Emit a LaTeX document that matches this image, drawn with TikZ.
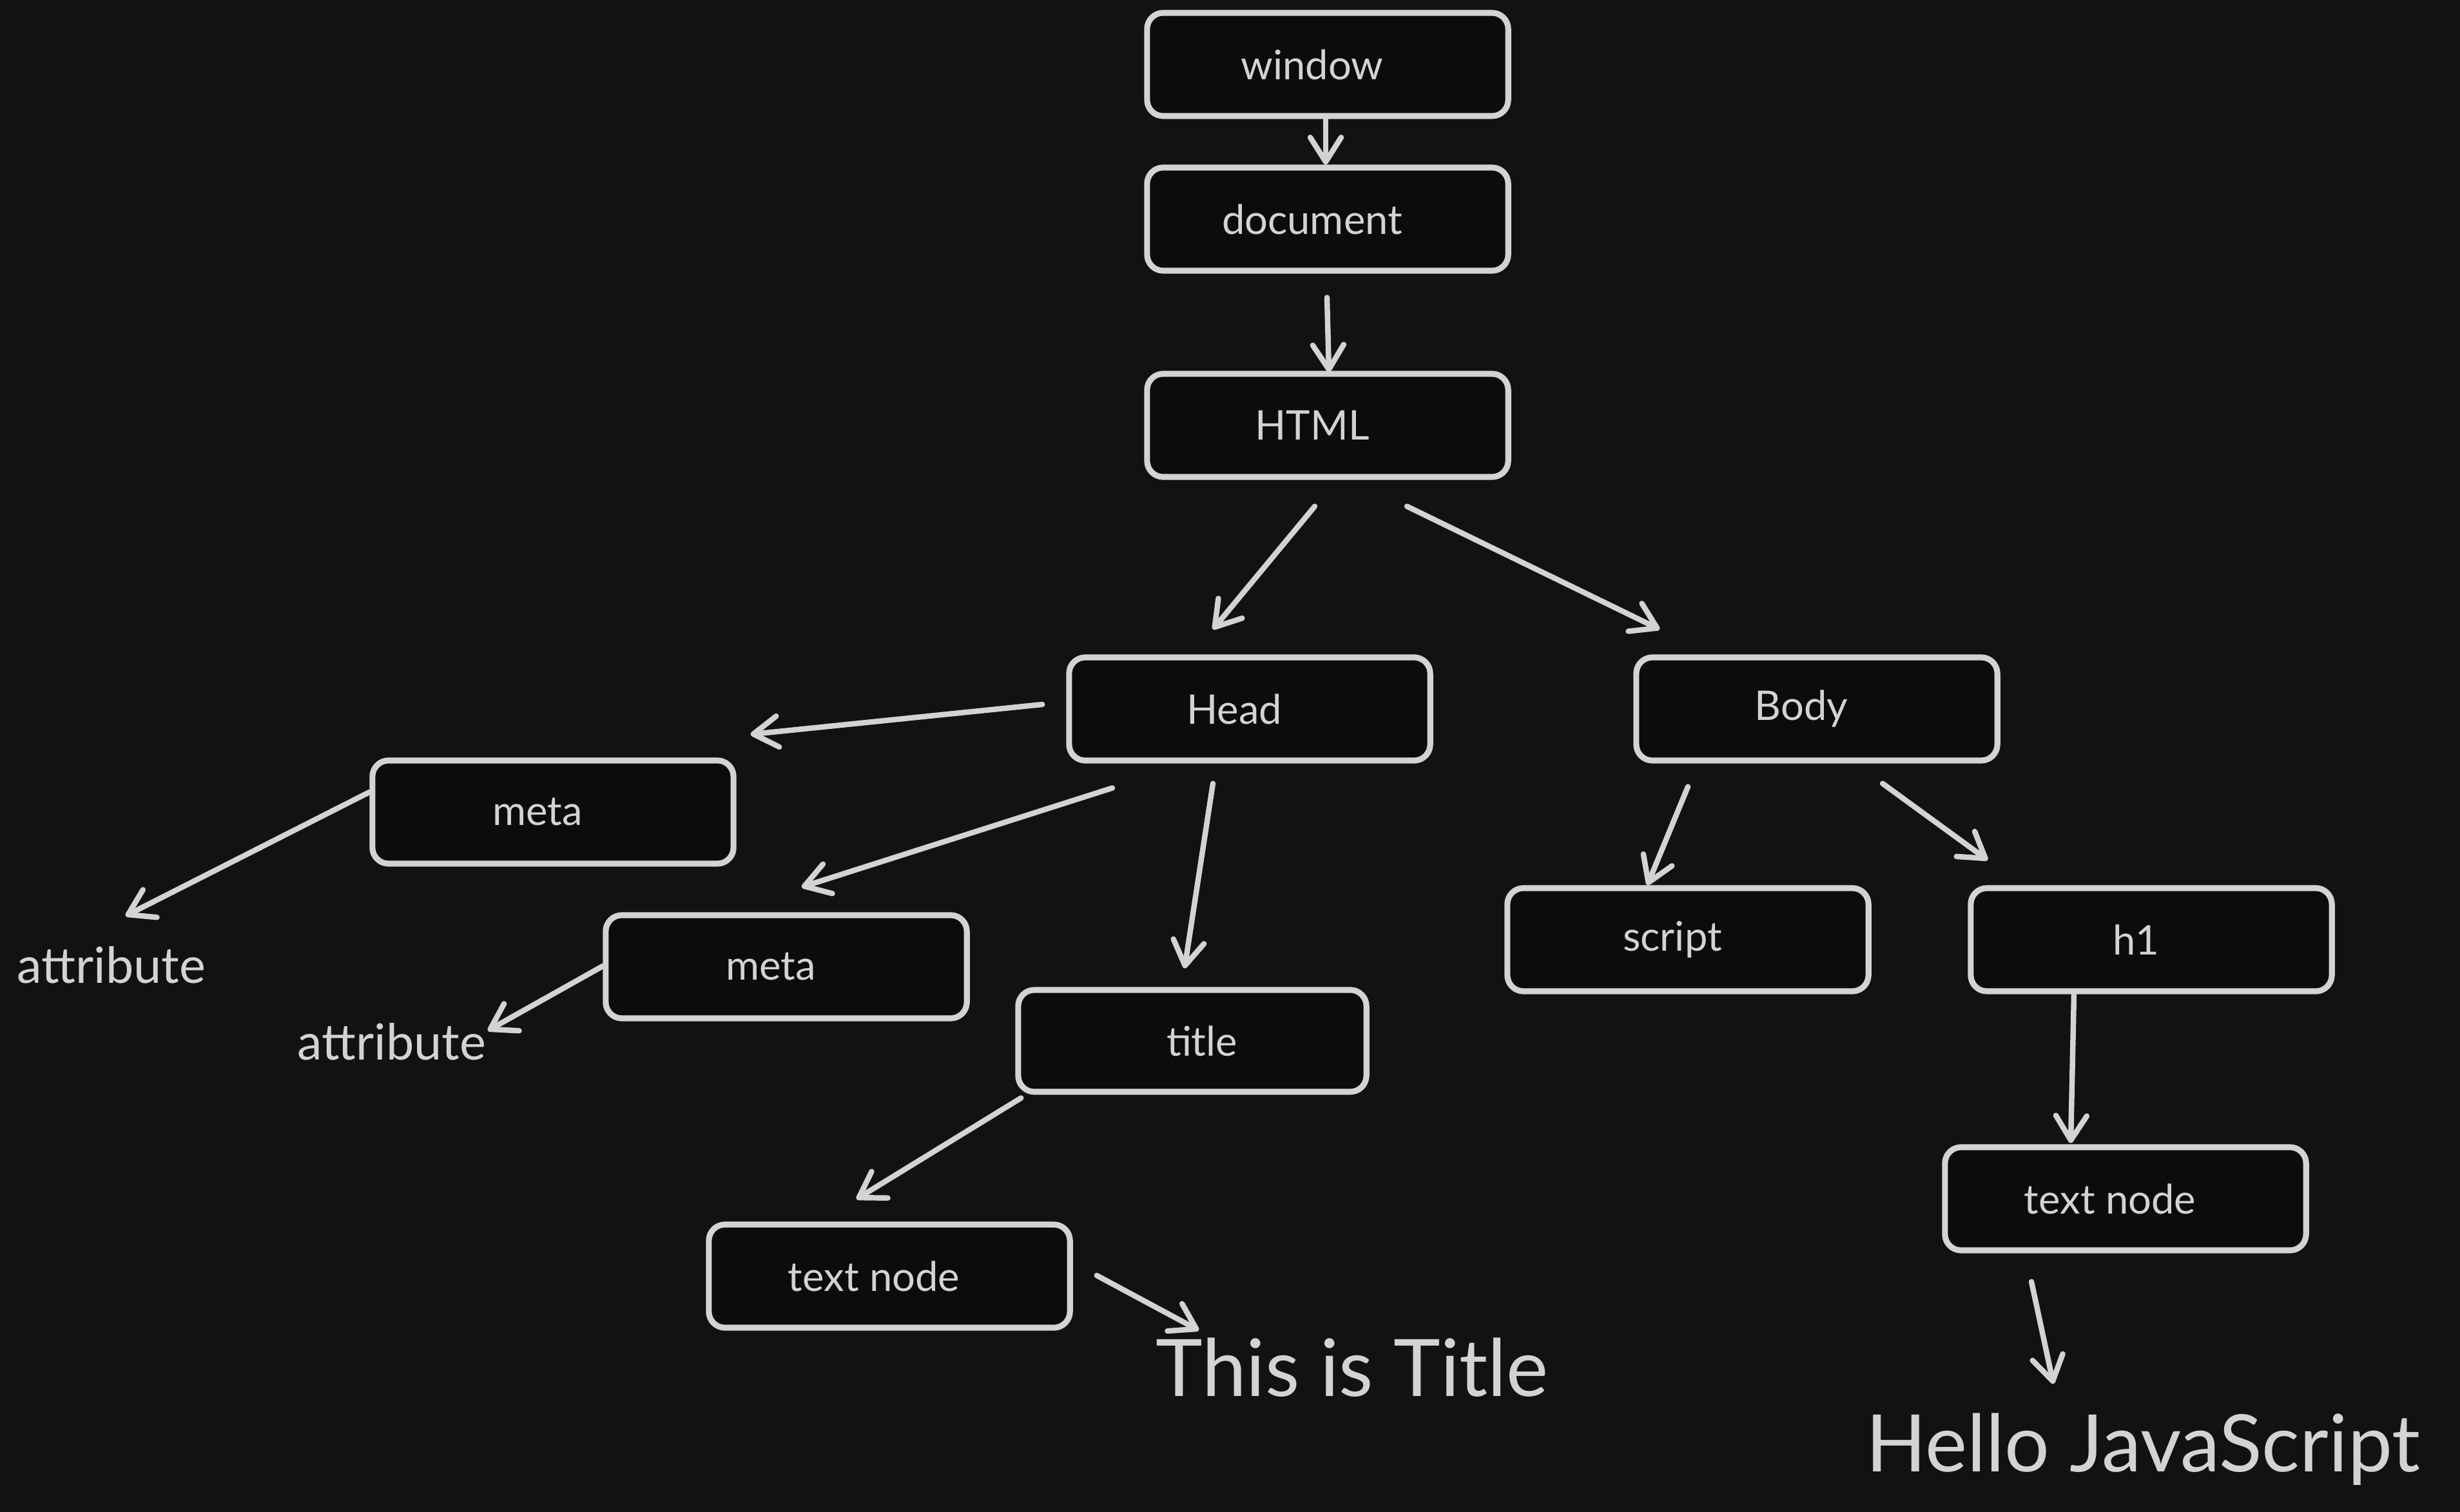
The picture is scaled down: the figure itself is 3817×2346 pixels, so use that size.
\documentclass[tikz,border=0pt]{standalone}
\usepackage{fontspec}
\setmainfont{Lato}
\usetikzlibrary{arrows.meta}
\definecolor{bg}{HTML}{121212}
\definecolor{fg}{HTML}{D3D3D3}
\definecolor{boxfill}{HTML}{0C0C0C}
\newcommand{\ls}{\kern0.48cm}
\tikzset{
  box/.style={draw=fg, fill=boxfill, line width=2.6pt, rounded corners=0.25cm,
    minimum width=5.6cm, minimum height=1.6cm, text=fg, font=\fontsize{18}{22}\selectfont, inner sep=0pt},
  lbl/.style={text=fg, font=\fontsize{22}{26}\selectfont, inner sep=0pt},
  big/.style={text=fg, font=\fontsize{35}{40}\selectfont, inner sep=0pt},
  arr/.style={draw=fg, line width=2.4pt, line cap=round,
    -{Straight Barb[length=0.38cm, width=0.48cm, line cap=round, line join=round]}}
}
\begin{document}
\begin{tikzpicture}[x=0.01cm, y=-0.01cm]
\fill[bg] (0,0) rectangle (3817,2346);
\useasboundingbox (0,0) rectangle (3817,2346);

\node[box] (window) at (2060,100) {window\ls};
\node[box] (document) at (2060,340) {document\ls};
\node[box] (html) at (2060,660) {HTML\ls};
\node[box] (head) at (1939,1100) {Head\ls};
\node[box] (body) at (2819,1100) {Body\ls};
\node[box] (meta1) at (858,1260) {meta\ls};
\node[box] (meta2) at (1220,1500) {meta\ls};
\node[box, minimum width=5.4cm, minimum height=1.58cm] (title) at (1850,1615) {\kern0.3cm title};
\node[box] (script) at (2619,1458) {script\ls};
\node[box] (h1) at (3338,1458) {h1\ls};
\node[box] (tn1) at (1380,1980) {text node\ls};
\node[box] (tn2) at (3298,1860) {text node\ls};

\node[lbl] (attr1) at (173,1497) {attribute};
\node[lbl] (attr2) at (608,1616) {attribute};
\node[big] (ttl) at (2098,2122) {This is Title};
\node[big] (hello) at (3325,2249) {Hello JavaScript};

\draw[arr] ([shift={(-3,0)}]window.south) -- ([shift={(-3,0)}]document.north);
\draw[arr] ([shift={(-1,37)}]document.south) -- ([shift={(2,2)}]html.north);
\draw[arr] ([shift={(-20,41)}]html.south) -- ([shift={(-57,-39)}]head.north);
\draw[arr] ([shift={(123,41)}]html.south) -- ([shift={(-244,-39)}]body.north);
\draw[arr] ([shift={(-37,-7)}]head.west) -- ([shift={(22,-36)}]meta1.north east);
\draw[arr] ([shift={(-213,38)}]head.south) -- ([shift={(24,-39)}]meta2.north);
\draw[arr] ([shift={(-57,31)}]head.south) -- ([shift={(-12,-29)}]title.north);
\draw[arr] ([shift={(0,-31)}]meta1.west) -- ([shift={(22,-76)}]attr1.center);
\draw[arr] ([shift={(0,-1)}]meta2.west) -- ([shift={(149,-17)}]attr2.center);
\draw[arr] ([shift={(9,5)}]title.south west) -- ([shift={(-51,-35)}]tn1.north);
\draw[arr] ([shift={(37,-1)}]tn1.east) -- ([shift={(-238,-58)}]ttl.center);
\draw[arr] ([shift={(-200,36)}]body.south) -- ([shift={(-63,0)}]script.north);
\draw[arr] ([shift={(102,31)}]body.south) -- ([shift={(-254,-39)}]h1.north);
\draw[arr] ([shift={(-120,0)}]h1.south) -- ([shift={(-85,-2)}]tn2.north);
\draw[arr] ([shift={(-146,44)}]tn2.south) -- ([shift={(-139,-102)}]hello.center);
\end{tikzpicture}
\end{document}
